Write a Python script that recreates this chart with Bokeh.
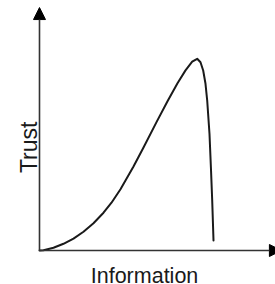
import numpy as np
from bokeh.plotting import figure
from bokeh.models import Arrow, NormalHead, Label, Range1d
from bokeh.embed import file_html
from bokeh.resources import INLINE

# Conceptual curve: trust as a function of information (arbitrary units 0-10)
information = [0.000, 0.169, 0.593, 1.017, 1.441, 1.864, 2.288, 2.712, 3.051,
               3.432, 3.983, 4.407, 4.958, 5.424, 5.847, 6.186, 6.470, 6.682,
               6.822, 6.936, 7.034, 7.106, 7.203, 7.263, 7.318, 7.373]
trust = [0.000, 0.008, 0.112, 0.278, 0.494, 0.776, 1.133, 1.568, 1.983,
         2.544, 3.485, 4.274, 5.328, 6.195, 6.942, 7.473, 7.834, 7.954,
         7.813, 7.469, 6.917, 6.224, 4.842, 3.456, 2.075, 0.415]

x_label = "Information"
y_label = "Trust"
x_axis_end = 10.25
y_axis_end = 10.08

p = figure(width=275, height=284, output_backend="svg", toolbar_location=None,
           x_axis_type=None, y_axis_type=None, min_border=0,
           x_range=Range1d(-1.6525, 10.0), y_range=Range1d(-1.411, 10.373))
p.outline_line_color = None
p.grid.visible = False
p.background_fill_color = "white"
p.border_fill_color = "white"

axis_color = "#333333"
p.add_layout(Arrow(x_start=0, y_start=0, x_end=x_axis_end, y_end=0,
                   line_color=axis_color, line_width=1.6,
                   end=NormalHead(size=12, fill_color="black", line_color="black", line_width=1)))
p.add_layout(Arrow(x_start=0, y_start=0, x_end=0, y_end=y_axis_end,
                   line_color=axis_color, line_width=1.6,
                   end=NormalHead(size=12, fill_color="black", line_color="black", line_width=1)))

p.line(information, trust, line_color="#1a1a1a", line_width=2, line_join="round", line_cap="round")

p.add_layout(Label(x=4.45, y=-1.05, text=x_label, text_align="center",
                   text_baseline="alphabetic", text_font="Liberation Sans",
                   text_font_size="21.5px", text_color="#1a1a1a"))
p.add_layout(Label(x=-0.45, y=4.28, text=y_label, angle=np.pi / 2,
                   text_align="center", text_baseline="alphabetic",
                   text_font="Liberation Sans", text_font_size="23px",
                   text_color="#1a1a1a"))

open("out.html", "w").write(file_html(p, INLINE))
